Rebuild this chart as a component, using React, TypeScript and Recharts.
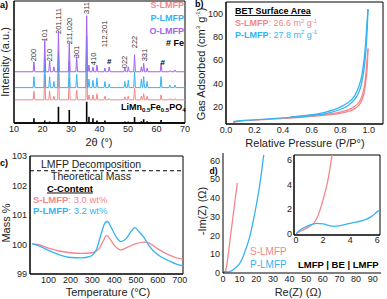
import React from 'react';
import { ComposedChart, LineChart, Line, XAxis, YAxis, ReferenceArea, ReferenceLine, ReferenceDot } from 'recharts';

const PINK = '#f4878b';
const BLUE = '#36b3f3';
const VIOLET = '#a462ee';
const INK = '#222';
const FONT = '"Liberation Sans", Arial, Helvetica, sans-serif';

// ---- a) XRD ----
const xrdPeaks = [17.0, 20.8, 22.5, 24.0, 25.6, 29.4, 32.0, 35.5, 36.3, 37.7, 39.1, 41.9, 43.4, 48.9, 50.1, 52.3, 54.7, 55.5, 56.7, 61.6, 64.7, 66.5];
const oLmfpPeaks = [8, 26, 9, 4, 33, 24, 12, 46, 5.5, 4, 5.5, 3, 4, 3, 4, 14, 4, 7, 3, 7, 1, 1.5];
const pLmfpPeaks = [9, 24, 9, 5, 30, 22, 11, 42, 7, 6, 8, 5, 3, 5, 6, 13, 7, 9, 5, 9, 2, 2];
const sLmfpPeaks = [7, 20, 7, 3, 25, 18, 8, 35, 4, 4, 5, 3, 1, 2.5, 3, 9.5, 3, 5, 3, 4, 1, 1];
const refPeaks = [3.8, 2, 1.2, 0.8, 13.4, 10.7, 1.5, 17.5, 5.2, 3.8, 2, 2, 0.5, 1.2, 1.2, 5, 1.5, 3, 1.5, 2.5, 0.8, 0.8];
const oBase = 42;
const pBase = 29;
const sBase = 19;
const hklText = ['200', '101', '210', '201,111', '211,020', '301', '311', '410', '112,201', '022', '222', '331'];
const hklPos = [17.0, 20.8, 22.5, 25.6, 29.4, 32.0, 35.5, 37.9, 41.9, 48.9, 52.3, 55.7];
const hklY = [55.7, 72, 55.7, 83.6, 75.4, 58.2, 94.3, 52.5, 73, 50, 66.4, 55.7];
const fePos = [43.4, 62.2];
const feY = [50.8, 49.2];
const xrdTicks = [10, 20, 30, 40, 50, 60, 70];

// ---- b) BET isotherms ----
const sAds = [[0.05, 6.5], [0.1, 7.5], [0.2, 8.3], [0.3, 9], [0.4, 9.8], [0.5, 10.6], [0.6, 11.5], [0.7, 12.6], [0.8, 14.2], [0.85, 15.6], [0.9, 18], [0.93, 21], [0.95, 25], [0.97, 33], [0.98, 42], [0.99, 55], [0.995, 70]];
const sDes = [[0.45, 10.8], [0.5, 11.5], [0.6, 12.5], [0.7, 13.5], [0.8, 15.3], [0.85, 17], [0.9, 20], [0.93, 23.5], [0.95, 28], [0.97, 38], [0.98, 48], [0.99, 62], [0.995, 70]];
const pAds = [[0.05, 7], [0.1, 7.8], [0.2, 8.6], [0.3, 9.4], [0.4, 10.2], [0.5, 11], [0.6, 12.2], [0.7, 14], [0.8, 17.5], [0.85, 20.5], [0.9, 26], [0.93, 32], [0.95, 40], [0.97, 55], [0.98, 68], [0.99, 88], [0.995, 104]];
const pDes = [[0.45, 11], [0.5, 11.6], [0.6, 13], [0.7, 15.3], [0.8, 19.5], [0.85, 23], [0.9, 29], [0.93, 37], [0.95, 46], [0.97, 63], [0.98, 78], [0.99, 96], [0.995, 104]];
const betXTicks = [0, 0.2, 0.4, 0.6, 0.8, 1.0];
const betYTicks = [20, 40, 60, 80, 100];

// ---- c) TGA ----
const sTga = [[25, 100.02], [50, 100.0], [100, 99.88], [150, 99.78], [200, 99.72], [250, 99.7], [300, 99.72], [330, 99.85], [350, 100.12], [365, 100.3], [380, 100.2], [400, 99.98], [430, 99.82], [460, 99.9], [500, 100.03], [540, 100.08], [560, 100.05], [600, 99.85], [650, 99.65], [700, 99.52], [715, 99.5]];
const pTga = [[25, 100.02], [50, 99.97], [100, 99.8], [150, 99.65], [200, 99.56], [250, 99.55], [290, 99.6], [320, 99.85], [340, 100.35], [360, 100.75], [370, 100.78], [385, 100.6], [410, 100.25], [430, 100.1], [455, 100.2], [475, 100.42], [495, 100.57], [515, 100.42], [540, 100.2], [560, 99.95], [600, 99.65], [650, 99.45], [700, 99.3], [715, 99.28]];
const tgaXTicks = [100, 200, 300, 400, 500, 600, 700];
const tgaYTicks = [99, 100, 101, 102, 103];
const decompositionMass = 102.5;

// ---- d) EIS ----
const sEis = [[0, 0], [0.5, 0.3], [1, 0.6], [1.3, 0.85], [1.6, 1.4], [1.9, 2.4], [2.2, 3.6], [2.4, 4.6], [2.6, 6], [3, 8.8], [4, 16], [5, 23], [6, 30], [7, 37], [8, 44], [8.6, 48]];
const pEis = [[0, 0], [0.3, 0.3], [0.7, 0.55], [1, 0.7], [1.5, 0.85], [2, 0.8], [2.5, 0.65], [2.8, 0.6], [3.2, 0.65], [4, 0.85], [5, 1.1], [5.5, 1.35], [6, 1.8], [7, 2.4], [8, 3.2], [10, 5], [12, 8.5], [13, 11], [14, 13.5], [16, 19], [18, 27], [20, 36], [22, 46.5], [24.5, 63]];
const eisXTicks = [0, 10, 20, 30, 40, 50, 60, 70, 80, 90];
const eisYTicks = [0, 10, 20, 30, 40, 50, 60];
const insetTicks = [0, 2, 4, 6];

const toXY = (rows: number[][]) => rows.map(([x, y]) => ({ x, y }));

const pattern = (base: number, heights: number[]) => {
  const pts = [{ x: 10, y: base }];
  xrdPeaks.forEach((p, i) => {
    pts.push({ x: p - 0.3, y: base }, { x: p, y: base + heights[i] }, { x: p + 0.3, y: base });
  });
  pts.push({ x: 70, y: base });
  return pts;
};

const sticks = () => {
  const pts = [{ x: 10, y: 0 }];
  xrdPeaks.forEach((p, i) => {
    pts.push({ x: p, y: 0 }, { x: p, y: refPeaks[i] }, { x: p, y: 0 });
  });
  pts.push({ x: 70, y: 0 });
  return pts;
};

const tickStyle = { fontSize: 9, fill: INK };
const axisLine = { stroke: '#000', strokeWidth: 1 };

const Box = ({ x, y }: { x: [number, number]; y: [number, number] }) => (
  <ReferenceArea x1={x[0]} x2={x[1]} y1={y[0]} y2={y[1]} fill="none" stroke="#000" strokeWidth={1} ifOverflow="visible" />
);

function XrdPanel() {
  return (
    <ComposedChart width={195} height={150} margin={{ top: 1, right: 10, bottom: 2, left: 0 }}>
      <XAxis type="number" dataKey="x" domain={[10, 70]} ticks={xrdTicks} interval={0} height={25} tickLine={false} tickSize={2} tickMargin={1} axisLine={axisLine} tick={tickStyle} />
      <YAxis type="number" domain={[0, 100]} width={14} tick={false} tickLine={false} axisLine={axisLine} />
      <Line data={sticks()} dataKey="y" stroke="#000" strokeWidth={1.6} dot={false} activeDot={false} isAnimationActive={false} />
      <Line data={pattern(sBase, sLmfpPeaks)} dataKey="y" stroke={PINK} strokeWidth={1} dot={false} activeDot={false} isAnimationActive={false} />
      <Line data={pattern(pBase, pLmfpPeaks)} dataKey="y" stroke={BLUE} strokeWidth={1} dot={false} activeDot={false} isAnimationActive={false} />
      <Line data={pattern(oBase, oLmfpPeaks)} dataKey="y" stroke={VIOLET} strokeWidth={1} dot={false} activeDot={false} isAnimationActive={false} />
      {hklText.map((t, i) => (
        <ReferenceDot key={t} x={hklPos[i]} y={hklY[i]} r={0} ifOverflow="visible"
          shape={(p: any) => (
            <text x={p.cx} y={p.cy} transform={`rotate(-90 ${p.cx} ${p.cy})`} textAnchor="middle" dominantBaseline="central" fontSize={7.5} fill="#333">{t}</text>
          )} />
      ))}
      {fePos.map((x, i) => (
        <ReferenceDot key={'fe' + i} x={x} y={feY[i]} r={0} ifOverflow="visible"
          shape={(p: any) => (
            <text x={p.cx} y={p.cy} textAnchor="middle" dominantBaseline="central" fontSize={8} fontWeight="bold" fill="#000">#</text>
          )} />
      ))}
      <Box x={[10, 70]} y={[0, 100]} />
    </ComposedChart>
  );
}

function BetPanel() {
  return (
    <LineChart width={192} height={150} margin={{ top: 2, right: 4, bottom: 2, left: 0 }}>
      <XAxis type="number" dataKey="x" domain={[0, 1.1]} ticks={betXTicks} interval={0} height={24} tickLine={false} tickSize={2} tickMargin={1} axisLine={axisLine} tick={tickStyle} tickFormatter={(v: number) => v.toFixed(1)} />
      <YAxis type="number" domain={[5, 110]} ticks={betYTicks} interval={0} width={31} tickLine={false} tickSize={2} tickMargin={1} axisLine={axisLine} tick={tickStyle} />
      <Line data={toXY(sAds)} dataKey="y" type="monotone" stroke={PINK} strokeWidth={1.3} dot={false} activeDot={false} isAnimationActive={false} />
      <Line data={toXY(sDes)} dataKey="y" type="monotone" stroke={PINK} strokeWidth={1.3} dot={false} activeDot={false} isAnimationActive={false} />
      <Line data={toXY(pAds)} dataKey="y" type="monotone" stroke={BLUE} strokeWidth={1.3} dot={false} activeDot={false} isAnimationActive={false} />
      <Line data={toXY(pDes)} dataKey="y" type="monotone" stroke={BLUE} strokeWidth={1.3} dot={false} activeDot={false} isAnimationActive={false} />
      <Box x={[0, 1.1]} y={[5, 110]} />
    </LineChart>
  );
}

function TgaPanel() {
  return (
    <LineChart width={195} height={151} margin={{ top: 8, right: 12, bottom: 2, left: 0 }}>
      <XAxis type="number" dataKey="x" domain={[15, 715]} ticks={tgaXTicks} interval={0} height={23} tickLine={false} tickSize={2} tickMargin={1} axisLine={axisLine} tick={tickStyle} />
      <YAxis type="number" domain={[99, 103]} ticks={tgaYTicks} interval={0} width={30} tickLine={false} tickSize={2} tickMargin={1} axisLine={axisLine} tick={tickStyle} />
      <ReferenceLine y={decompositionMass} stroke="#000" strokeWidth={1} strokeDasharray="4 3" />
      <Line data={toXY(sTga)} dataKey="y" type="monotone" stroke={PINK} strokeWidth={1.3} dot={false} activeDot={false} isAnimationActive={false} />
      <Line data={toXY(pTga)} dataKey="y" type="monotone" stroke={BLUE} strokeWidth={1.3} dot={false} activeDot={false} isAnimationActive={false} />
      <Box x={[15, 715]} y={[99, 103]} />
    </LineChart>
  );
}

function EisPanel() {
  return (
    <LineChart width={192} height={151} margin={{ top: 5, right: 6, bottom: 3, left: 0 }}>
      <XAxis type="number" dataKey="x" domain={[0, 95]} ticks={eisXTicks} interval={0} height={23} tickLine={false} tickSize={2} tickMargin={1} axisLine={axisLine} tick={tickStyle} />
      <YAxis type="number" domain={[0, 64]} ticks={eisYTicks} interval={0} width={28} tickLine={false} tickSize={2} tickMargin={1} axisLine={axisLine} tick={tickStyle} />
      <Line data={toXY(sEis)} dataKey="y" type="monotone" stroke={PINK} strokeWidth={1.3} dot={false} activeDot={false} isAnimationActive={false} />
      <Line data={toXY(pEis)} dataKey="y" type="monotone" stroke={BLUE} strokeWidth={1.3} dot={false} activeDot={false} isAnimationActive={false} />
    </LineChart>
  );
}

function EisInset() {
  return (
    <LineChart width={105} height={100} margin={{ top: 5, right: 5, bottom: 0, left: 0 }}>
      <XAxis type="number" dataKey="x" domain={[-0.15, 6.2]} allowDataOverflow ticks={insetTicks} interval={0} height={15} tickLine={false} tickSize={1} tickMargin={1} axisLine={axisLine} tick={tickStyle} />
      <YAxis type="number" domain={[-0.1, 6.4]} allowDataOverflow ticks={insetTicks} interval={0} width={14} tickLine={false} tickSize={1} tickMargin={1} axisLine={axisLine} tick={tickStyle} />
      <Line data={toXY(sEis)} dataKey="y" type="monotone" stroke={PINK} strokeWidth={1.3} dot={false} activeDot={false} isAnimationActive={false} />
      <Line data={toXY(pEis)} dataKey="y" type="monotone" stroke={BLUE} strokeWidth={1.3} dot={false} activeDot={false} isAnimationActive={false} />
      <Box x={[-0.15, 6.2]} y={[-0.1, 6.4]} />
    </LineChart>
  );
}

const Sup = ({ children }: { children: string }) => (
  <tspan dy={-3.5} fontSize={6}>{children}</tspan>
);

function Annotations() {
  const vt = (x: number, y: number) => `rotate(-90 ${x} ${y})`;
  return (
    <svg width={387} height={299} style={{ position: 'absolute', left: 0, top: 0, pointerEvents: 'none' }}>
      {/* panel letters */}
      <text x={0} y={8} fontSize={9} fontWeight="bold" fill="#000">a)</text>
      <text x={195} y={7} fontSize={9} fontWeight="bold" fill="#000">b)</text>
      <text x={0} y={166} fontSize={9} fontWeight="bold" fill="#000">c)</text>
      <text x={209.5} y={173.5} fontSize={8.5} fontWeight="bold" fill="#000">d)</text>

      {/* a) */}
      <g fontSize={9} fontWeight="bold" textAnchor="end" dominantBaseline="central">
        <text x={184} y={5} fill={PINK}>S-LMFP</text>
        <text x={184} y={17.5} fill={BLUE}>P-LMFP</text>
        <text x={184} y={30.5} fill={VIOLET}>O-LMFP</text>
        <text x={184} y={43} fill="#000"># Fe</text>
      </g>
      <text x={121} y={110} fontSize={9} fontWeight="bold" fill="#000">
        LiMn<tspan dy={2} fontSize={6}>0.5</tspan><tspan dy={-2}>Fe</tspan><tspan dy={2} fontSize={6}>0.5</tspan><tspan dy={-2}>PO</tspan><tspan dy={2} fontSize={6}>4</tspan>
      </text>
      <text x={5} y={62} transform={vt(5, 62)} textAnchor="middle" dominantBaseline="central" fontSize={11} fill={INK}>Intensity (a.u.)</text>
      <text x={99} y={142} textAnchor="middle" dominantBaseline="central" fontSize={11} fill={INK}>2θ (°)</text>

      {/* b) */}
      <text x={235} y={14} fontSize={9} fontWeight="bold" fill="#000" textDecoration="underline">BET Surface Area</text>
      <text x={235} y={26} fontSize={9} fill={PINK}>
        <tspan fontWeight="bold">S-LMFP</tspan>: 26.6 m<Sup>2</Sup><tspan dy={3.5}> g</tspan><Sup>-1</Sup>
      </text>
      <text x={235} y={37.5} fontSize={9} fill={BLUE}>
        <tspan fontWeight="bold">P-LMFP</tspan>: 27.8 m<Sup>2</Sup><tspan dy={3.5}> g</tspan><Sup>-1</Sup>
      </text>
      <text x={201} y={64} transform={vt(201, 64)} textAnchor="middle" dominantBaseline="central" fontSize={11} fill={INK}>
        Gas Adsorbed (cm<Sup>3</Sup><tspan dy={3.5}> g</tspan><Sup>-1</Sup><tspan dy={3.5}>)</tspan>
      </text>
      <text x={305} y={143} textAnchor="middle" dominantBaseline="central" fontSize={11} fill={INK}>Relative Pressure (P/P°)</text>

      {/* c) */}
      <text x={91} y={164} textAnchor="middle" dominantBaseline="central" fontSize={10.5} fill={INK}>LMFP Decomposition</text>
      <text x={91} y={176} textAnchor="middle" dominantBaseline="central" fontSize={10.5} fill={INK}>Theoretical Mass</text>
      <text x={47} y={191.5} fontSize={9.5} fontWeight="bold" fill="#000" textDecoration="underline">C-Content</text>
      <text x={33} y={202.5} fontSize={9.5} fill={PINK}><tspan fontWeight="bold">S-LMFP</tspan>: 3.0 wt%</text>
      <text x={33} y={213.5} fontSize={9.5} fill={BLUE}><tspan fontWeight="bold">P-LMFP</tspan>: 3.2 wt%</text>
      <text x={6} y={223} transform={vt(6, 223)} textAnchor="middle" dominantBaseline="central" fontSize={11} fill={INK}>Mass %</text>
      <text x={108} y={292} textAnchor="middle" dominantBaseline="central" fontSize={11} fill={INK}>Temperature (°C)</text>

      {/* d) */}
      <text x={250} y={251} dominantBaseline="central" fontSize={10} fill={PINK}>S-LMFP</text>
      <text x={250} y={264} dominantBaseline="central" fontSize={10} fill={BLUE}>P-LMFP</text>
      <text x={298} y={264} dominantBaseline="central" fontSize={9.5} fontWeight="bold" fill="#000">LMFP | BE | LMFP</text>
      <text x={201.5} y={211} transform={vt(201.5, 211)} textAnchor="middle" dominantBaseline="central" fontSize={11} fill={INK}>-Im(Z) (Ω)</text>
      <text x={298} y={292} textAnchor="middle" dominantBaseline="central" fontSize={11} fill={INK}>Re(Z) (Ω)</text>
    </svg>
  );
}

export default function App() {
  return (
    <div style={{ position: 'absolute', left: 0, top: 0, width: 387, height: 299, background: '#fff', fontFamily: FONT, overflow: 'hidden' }}>
      <div style={{ position: 'absolute', left: 0, top: 0 }}><XrdPanel /></div>
      <div style={{ position: 'absolute', left: 195, top: 0 }}><BetPanel /></div>
      <div style={{ position: 'absolute', left: 0, top: 148 }}><TgaPanel /></div>
      <div style={{ position: 'absolute', left: 195, top: 148 }}><EisPanel /></div>
      <div style={{ position: 'absolute', left: 280, top: 150 }}><EisInset /></div>
      <Annotations />
    </div>
  );
}
